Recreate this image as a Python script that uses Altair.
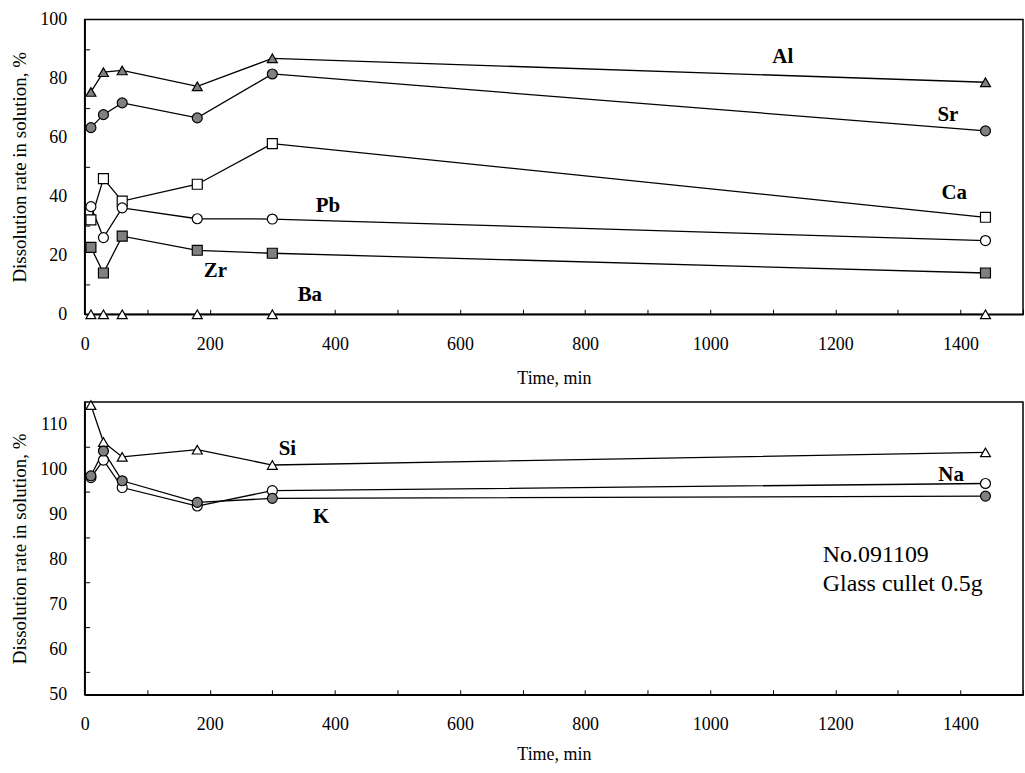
import altair as alt
import pandas as pd

# ---------------- data ----------------
times = [10, 30, 60, 180, 300, 1440]

# upper panel
al = [75.4, 82.1, 82.7, 77.3, 86.8, 78.7]
sr = [63.3, 67.7, 71.7, 66.6, 81.5, 62.2]
ca = [32.0, 46.0, 38.4, 44.1, 57.9, 32.9]
pb = [36.5, 26.0, 36.1, 32.4, 32.3, 25.0]
zr = [22.7, 14.0, 26.5, 21.7, 20.7, 14.0]
ba = [0.0, 0.0, 0.0, 0.0, 0.0, 0.0]

# lower panel
si = [114.3, 106.1, 102.8, 104.4, 101.0, 103.8]
na = [98.2, 102.1, 96.0, 91.9, 95.3, 96.9]
k = [98.6, 104.1, 97.5, 92.7, 93.6, 94.1]

top_names = ["Al", "Sr", "Ca", "Pb", "Zr", "Ba"]
top_shapes = ["triangle-up", "circle", "square", "circle", "square", "triangle-up"]
top_fills = ["#808080", "#808080", "white", "white", "#808080", "white"]

bot_names = ["Si", "Na", "K"]
bot_shapes = ["triangle-up", "circle", "circle"]
bot_fills = ["white", "white", "#808080"]

# series labels (name, time, value)
top_lab_names = ["Al", "Sr", "Ca", "Pb", "Zr", "Ba"]
top_lab_t = [1116, 1380, 1390, 389, 209, 360]
top_lab_v = [87.2, 67.7, 41.2, 36.8, 14.8, 6.4]

bot_lab_names = ["Si", "Na", "K"]
bot_lab_t = [324, 1385, 378]
bot_lab_v = [104.5, 98.8, 89.5]

note_lines = ["No.091109", "Glass cullet 0.5g"]
note_t = [1180, 1180]
note_v = [81.0, 74.5]

FONT = "Liberation Serif"
W = 942
H_TOP = 296
H_BOT = 294


def long_df(names, series):
    rows = []
    for n, vals in zip(names, series):
        for t, v in zip(times, vals):
            rows.append({"series": n, "time": t, "value": v})
    return pd.DataFrame(rows)


def panel(df, names, shapes, fills, ydom, ymajor, yminor, lab_df, note_df, H, title_y):
    xs = alt.Scale(domain=[0, 1500], nice=False, zero=False)
    ys = alt.Scale(domain=ydom, nice=False, zero=False)
    x_main = alt.Axis(values=list(range(0, 1401, 200)), title="Time, min", format="d",
                      ticks=False, tickSize=0, labelPadding=21,
                      domainColor="black", domainWidth=1.5,
                      labelFont=FONT, labelFontSize=18, labelColor="black",
                      titleFont=FONT, titleFontSize=18, titleFontWeight="normal",
                      titleColor="black", titleY=title_y, titleBaseline="middle",
                      grid=False, labelFlush=False, labelOverlap=False)
    y_main = alt.Axis(values=ymajor, title="Dissolution rate in solution, %", format="d",
                      ticks=False, tickSize=0, labelPadding=18,
                      domainColor="black", domainWidth=1.5,
                      labelFont=FONT, labelFontSize=18, labelColor="black",
                      titleFont=FONT, titleFontSize=19, titleFontWeight="normal",
                      titleColor="black", titleX=-65.5, titleBaseline="middle",
                      grid=False, labelFlush=False, labelOverlap=False)
    x_tick = alt.Axis(orient="top", offset=-H, values=list(range(100, 1501, 100)),
                      tickSize=5, tickColor="black", tickWidth=1,
                      labels=False, domain=False, title=None, grid=False)
    y_tick = alt.Axis(orient="right", offset=-W, values=yminor,
                      tickSize=5, tickColor="black", tickWidth=1,
                      labels=False, domain=False, title=None, grid=False)

    base = alt.Chart(df)
    lines = base.mark_line(color="black", strokeWidth=1.3).encode(
        x=alt.X("time:Q", scale=xs, axis=x_main),
        y=alt.Y("value:Q", scale=ys, axis=y_main),
        detail="series:N",
        order="time:Q",
    )
    pts = base.mark_point(filled=True, size=100, stroke="black",
                          strokeWidth=1.2, opacity=1).encode(
        x=alt.X("time:Q", scale=xs, axis=x_tick),
        y=alt.Y("value:Q", scale=ys, axis=y_tick),
        shape=alt.Shape("series:N", scale=alt.Scale(domain=names, range=shapes), legend=None),
        fill=alt.Fill("series:N", scale=alt.Scale(domain=names, range=fills), legend=None),
    )
    labs = alt.Chart(lab_df).mark_text(font=FONT, fontSize=21, fontWeight="bold",
                                       color="black").encode(
        x=alt.X("t:Q", scale=xs, axis=None),
        y=alt.Y("v:Q", scale=ys, axis=None),
        text="label:N",
    )
    layers = [lines, pts, labs]
    if note_df is not None:
        notes = alt.Chart(note_df).mark_text(font=FONT, fontSize=24, align="left",
                                             color="black").encode(
            x=alt.X("t:Q", scale=xs, axis=None),
            y=alt.Y("v:Q", scale=ys, axis=None),
            text="label:N",
        )
        layers.append(notes)
    return alt.layer(*layers).resolve_axis(x="independent", y="independent").properties(
        width=W, height=H)


top_df = long_df(top_names, [al, sr, ca, pb, zr, ba])
bot_df = long_df(bot_names, [si, na, k])
top_lab = pd.DataFrame({"label": top_lab_names, "t": top_lab_t, "v": top_lab_v})
bot_lab = pd.DataFrame({"label": bot_lab_names, "t": bot_lab_t, "v": bot_lab_v})
notes = pd.DataFrame({"label": note_lines, "t": note_t, "v": note_v})

top = panel(top_df, top_names, top_shapes, top_fills, [0, 100],
            list(range(0, 101, 20)), [10, 30, 50, 70, 90], top_lab, None, H_TOP, 64)
bot = panel(bot_df, bot_names, bot_shapes, bot_fills, [50, 115],
            list(range(50, 111, 10)), [55, 65, 75, 85, 95, 105], bot_lab, notes, H_BOT, 60)

chart = alt.vconcat(top, bot, spacing=88, bounds="flush").resolve_scale(
    shape="independent", fill="independent"
).properties(
    padding={"left": 9, "top": 8, "right": 0, "bottom": 5},
).configure_view(stroke="black", strokeWidth=1.5)

chart.save("out.html", embed_options={"renderer": "svg", "actions": False})
